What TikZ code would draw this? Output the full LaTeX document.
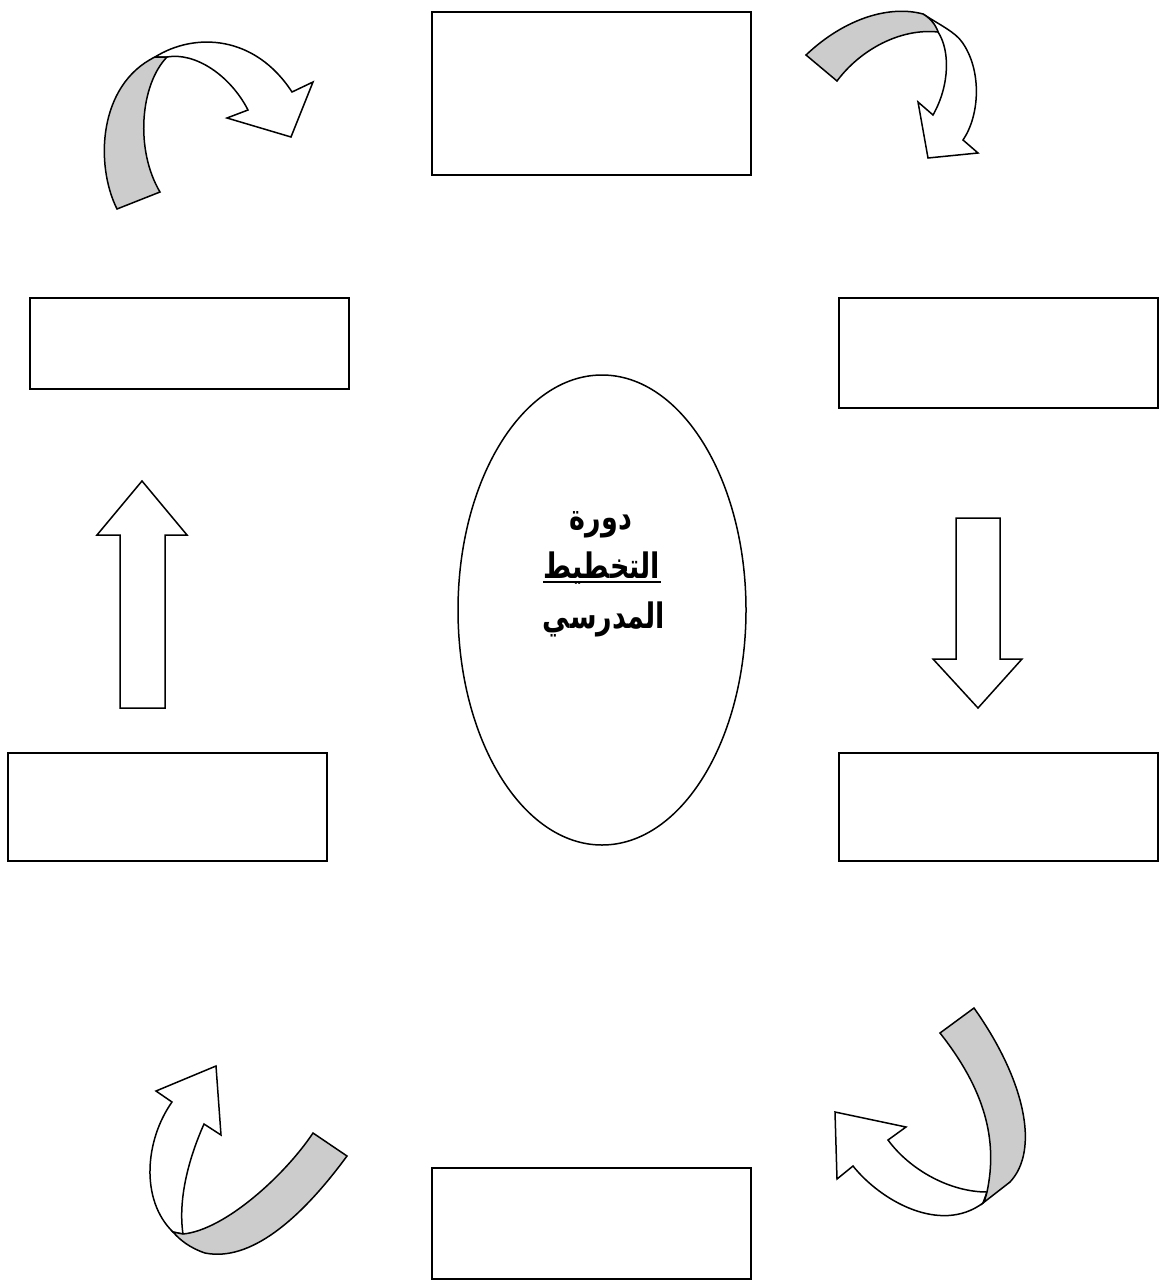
\documentclass[tikz,border=0pt]{standalone}
\usepackage{graphicx}
\usepackage{fontspec}
\newfontfamily\arabicfont[Script=Arabic]{DejaVu Sans}
\TeXXeTstate=1
\usetikzlibrary{shapes.geometric}
\newcommand{\tallar}[1]{\scalebox{1}[1.3]{\beginR #1\endR}}
\begin{document}
\begin{tikzpicture}[x=1pt,y=-1pt,line width=1.5pt,line join=miter,
  box/.style={draw,inner sep=0pt,minimum width=319pt},
  band/.style={draw,fill=white},
  fold/.style={draw,fill=black!20},
  txt/.style={inner sep=0pt,anchor=base,font=\arabicfont\bfseries\fontsize{27}{32}\selectfont}]
\useasboundingbox (0,0) rectangle (1168,1282);
% boxes
\node[box,minimum height=163pt] (b1) at (591.5,93.5) {};
\node[box,minimum height=91pt]  (b2) at (189.5,343.5) {};
\node[box,minimum height=110pt] (b3) at (998.5,353) {};
\node[box,minimum height=108pt] (b4) at (167.5,807) {};
\node[box,minimum height=108pt] (b5) at (998.5,807) {};
\node[box,minimum height=111pt] (b6) at (591.5,1223.5) {};
% centre ellipse
\node[draw,ellipse,inner sep=0pt,minimum width=288pt,minimum height=470pt] (e) at (602,610) {};
\node[txt] (t1) at (601,529) {\tallar{دورة}};
\node[txt] (t2) at (602,578) {\tallar{التخطيط}};
\node[txt] (t3) at (604,628) {\tallar{المدرسي}};
\draw[line width=1.8pt] ([yshift=-4pt]t2.base west) -- ([yshift=-4pt]t2.base east);
% straight block arrows
\draw[band] (120,708) -- (120,535) -- (97,535) -- (142,481) -- (187,535) -- (165,535) -- (165,708) -- cycle;
\draw[band] (956,518) -- (1000,518) -- (1000,659) -- (1022,659) -- (978,708) -- (933,659) -- (956,659) -- cycle;
% curved arrow top left
\draw[band] (155,57) .. controls (195,32) and (255,35) .. (292,92) -- (313,82) -- (291,137) -- (227,118) -- (248,110)
  .. controls (230,75) and (195,52) .. (167,57) -- cycle;
\draw[fold] (117,209) .. controls (95,165) and (98,85) .. (155,57) -- (167,57)
  .. controls (140,85) and (135,150) .. (160,192) -- cycle;
% curved arrow top right
\draw[band] (923,14) .. controls (940,25) and (955,32) .. (962,42) .. controls (982,70) and (980,115) .. (963,140)
  -- (978,153) -- (928,158) -- (918,102) -- (933,115) .. controls (950,85) and (950,50) .. (938,32)
  .. controls (935,25) and (930,18) .. (923,14) -- cycle;
\draw[fold] (806,55) .. controls (845,18) and (890,5) .. (923,14) .. controls (930,18) and (936,25) .. (938,32)
  .. controls (900,28) and (860,50) .. (837,81) -- cycle;
% curved arrow bottom left
\draw[band] (173,1232) .. controls (140,1200) and (145,1140) .. (172,1102) -- (156,1091) -- (216,1066) -- (221,1135)
  -- (204,1124) .. controls (188,1160) and (178,1200) .. (183,1234) -- cycle;
\draw[fold] (313,1133) -- (347,1156) .. controls (300,1220) and (250,1262) .. (205,1253)
  .. controls (190,1248) and (180,1240) .. (173,1232) -- (183,1234)
  .. controls (225,1230) and (285,1175) .. (313,1133) -- cycle;
% curved arrow bottom right
\draw[band] (987,1192) .. controls (950,1192) and (910,1170) .. (888,1140) -- (906,1127) -- (835,1112) -- (837,1179)
  -- (853,1166) .. controls (880,1200) and (940,1235) .. (983,1203) -- cycle;
\draw[fold] (940,1033) -- (974,1008) .. controls (1025,1080) and (1040,1150) .. (1010,1182) -- (983,1203)
  .. controls (985,1200) and (986,1196) .. (987,1192) .. controls (998,1140) and (985,1090) .. (940,1033) -- cycle;
\end{tikzpicture}
\end{document}
